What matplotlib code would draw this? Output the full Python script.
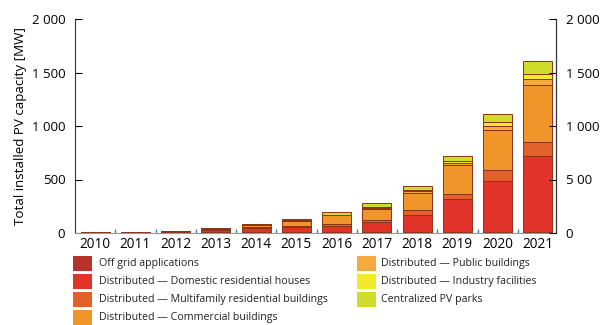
import matplotlib

matplotlib.use("Agg")
import matplotlib.pyplot as plt
import numpy as np
from matplotlib.patches import Rectangle

plt.rcParams["font.family"] = ["Open Sans", "DejaVu Sans"]

years = ["2010", "2011", "2012", "2013", "2014", "2015",
         "2016", "2017", "2018", "2019", "2020", "2021"]

# installed capacity by segment, MW
off_grid = [3, 4, 5, 5, 5, 5, 5, 5, 5, 5, 5, 5]
domestic = [4, 6, 12, 25, 40, 50, 65, 95, 160, 310, 480, 715]
multifamily = [0, 1, 2, 5, 10, 15, 15, 25, 47, 50, 103, 135]
commercial = [1, 1, 3, 10, 22, 45, 80, 100, 160, 270, 375, 525]
public = [0, 0, 0, 0, 2, 5, 5, 10, 20, 20, 37, 60]
industry = [0, 0, 0, 0, 1, 3, 2, 5, 14, 20, 40, 50]
centralized = [0, 0, 0, 0, 0, 5, 20, 38, 32, 47, 72, 122]

series = [
    ("Off grid applications", off_grid, "#b8312a"),
    ("Distributed \u2014 Domestic residential houses", domestic, "#e2332a"),
    ("Distributed \u2014 Multifamily residential buildings", multifamily, "#e2612a"),
    ("Distributed \u2014 Commercial buildings", commercial, "#f0952a"),
    ("Distributed \u2014 Public buildings", public, "#f4aa3c"),
    ("Distributed \u2014 Industry facilities", industry, "#f3ea2a"),
    ("Centralized PV parks", centralized, "#cfdc2c"),
]

yticks = [0, 500, 1000, 1500, 2000]
left_labels = ["0", "500", "1 000", "1 500", "2 000"]
right_labels = ["0", "5 00", "1 000", "1 500", "2 000"]

W, H = 612, 325
fig = plt.figure(figsize=(W / 100, H / 100), dpi=100)
ax = fig.add_axes([75 / W, 1 - 233 / H, 481 / W, 214 / H])

x = np.arange(len(years))
bottom = np.zeros(len(years))
for label, vals, color in series:
    ax.bar(x, vals, width=0.72, bottom=bottom, color=color,
           edgecolor="#8a3418", linewidth=0.7)
    bottom += np.array(vals)

ax.set_xlim(-0.5, len(years) - 0.55)
ax.set_ylim(0, 2000)
ax.set_xticks(x)
ax.set_xticklabels(years, fontsize=9.8)
ax.set_xticks(x[:-1] + 0.5, minor=True)
ax.tick_params(axis="x", which="major", length=0, pad=3)
ax.tick_params(axis="x", which="minor", direction="in", length=3,
               color="#3f86a8", width=1)
ax.set_yticks(yticks)
ax.set_yticklabels(left_labels, fontsize=9.5)
ax.tick_params(axis="y", direction="in", length=5, width=0.8, pad=7)
ax.set_ylabel("Total installed PV capacity [MW]", fontsize=9.6, labelpad=3)

ax.spines["top"].set_visible(False)
ax.spines["bottom"].set_color("#999999")
for s in ("left", "right"):
    ax.spines[s].set_color("#333333")
    ax.spines[s].set_linewidth(0.8)

ax2 = ax.twinx()
ax2.set_ylim(0, 2000)
ax2.set_yticks(yticks)
ax2.set_yticklabels(right_labels, fontsize=9.5)
ax2.tick_params(axis="y", direction="in", length=5, width=0.8, pad=7)
for s in ("top", "left", "bottom"):
    ax2.spines[s].set_visible(False)
ax2.spines["right"].set_color("#333333")
ax2.spines["right"].set_linewidth(0.8)

# legend in two columns under the chart
cols = [(73, 99), (357, 381)]
for i, (label, _, color) in enumerate(series):
    col, row = (0, i) if i < 4 else (1, i - 4)
    px, tx = cols[col]
    top = 256 + row * 18
    fig.add_artist(Rectangle((px / W, 1 - (top + 15) / H), 19 / W, 15 / H,
                             transform=fig.transFigure, facecolor=color,
                             edgecolor="none"))
    fig.text(tx / W, 1 - (top + 7.5) / H, label, fontsize=7.7,
             va="center", ha="left", color="#222222")

fig.savefig("out.png", dpi=100)
